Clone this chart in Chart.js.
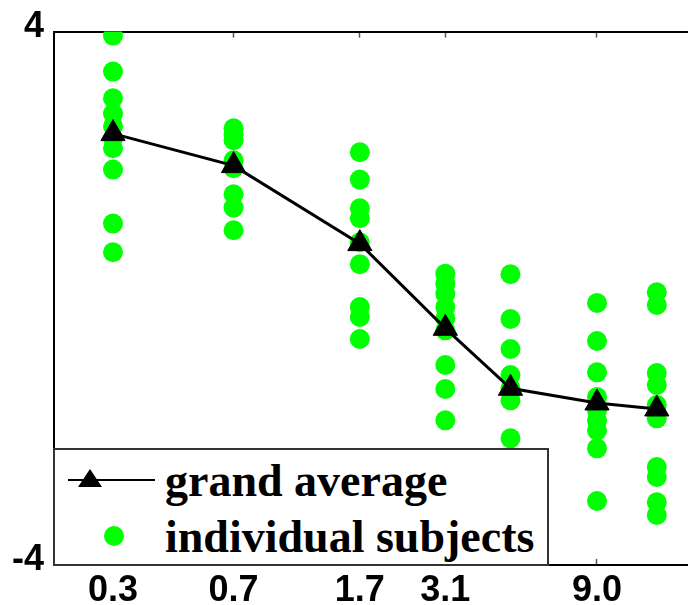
<!DOCTYPE html>
<html>
<head>
<meta charset="utf-8">
<script src="https://cdn.jsdelivr.net/npm/chart.js@4.4.1/dist/chart.umd.min.js"></script>
<style>
    body { margin: 0; background: #fff; overflow: hidden; }
    #wrap { position: relative; width: 688px; height: 605px; }
    #legendBox {
        position: absolute; left: 53px; top: 448px; width: 496px; height: 118px;
        border: 2px solid #333; background: #fff; box-sizing: border-box;
        font-family: "Liberation Serif", "Times New Roman", serif; font-weight: bold;
        font-size: 46px; color: #000;
    }
    #legendBox span { position: absolute; left: 110px; line-height: 46px; white-space: nowrap; }
    #legendBox svg { position: absolute; left: 0; top: 0; }
</style>
</head>
<body>
<div id="wrap">
    <canvas id="chart" width="688" height="605"></canvas>
    <div id="legendBox">
        <svg width="120" height="113">
            <line x1="13" y1="30" x2="100" y2="30" stroke="#000" stroke-width="2"></line>
            <polygon points="35,19 47,37 23,37" fill="#000"></polygon>
            <circle cx="59" cy="86" r="10" fill="#00ff00"></circle>
        </svg>
        <span id="lg1" style="top:8px">grand average</span>
        <span id="lg2" style="top:64px">individual subjects</span>
    </div>
</div>
<script>
// x positions of the conditions (log axis)
var levels = [0.3, 0.7, 1.7, 3.1, 4.9, 9.0, 13.7];
var tickValues = [0.3, 0.7, 1.7, 3.1, 9.0];
var yTicks = [-4, 4];

// mean of all subjects per condition
var grandAverage = [2.47, 1.99, 0.82, -0.45, -1.35, -1.57, -1.66];

// single subjects, one list per condition
var subj03 = [3.94, 3.40, 3.00, 2.77, 2.58, 2.40, 2.25, 1.93, 1.12, 0.69];
var subj07 = [2.55, 2.46, 2.37, 2.07, 1.95, 1.56, 1.36, 1.02];
var subj17 = [2.19, 1.78, 1.35, 1.20, 0.84, 0.51, -0.13, -0.28, -0.61];
var subj31 = [0.37, 0.22, 0.07, -0.13, -0.30, -0.48, -1.00, -1.36, -1.83];
var subj49 = [0.36, -0.31, -0.76, -1.15, -1.35, -1.53, -2.10];
var subj90 = [-0.07, -0.64, -1.11, -1.48, -1.68, -1.83, -1.98, -2.25, -3.04];
var subj137 = [0.09, -0.10, -1.12, -1.30, -1.60, -1.80, -2.53, -2.68, -3.06, -3.25];
var subjects = [subj03, subj07, subj17, subj31, subj49, subj90, subj137];

var subjectPoints = [];
subjects.forEach(function(list, i){
    list.forEach(function(v){
        subjectPoints.push({x: levels[i], y: v});
    });
});
var averagePoints = levels.map(function(x, i){ return {x: x, y: grandAverage[i]}; });

var tickFont = {family: '"Liberation Sans", Arial, sans-serif', size: 36, weight: 'bold'};

// short tick marks pointing into the plot
var innerTicks = { display: true, drawOnChartArea: false, drawTicks: true, tickLength: -6, tickColor: '#555', tickWidth: 1.5 };

function setXTicks(scale){
    scale.ticks = tickValues.map(function(v){ return {value: v}; });
}

new Chart(document.getElementById('chart'), {
    type: 'scatter',
    data: {
        datasets: [{
            label: 'grand average',
            data: averagePoints,
            showLine: true,
            borderColor: '#000',
            borderWidth: 3,
            pointStyle: 'triangle',
            pointRadius: 14,
            pointBackgroundColor: '#000',
            pointBorderColor: '#000',
            pointBorderWidth: 1,
            order: 0
        }, {
            label: 'individual subjects',
            data: subjectPoints,
            pointStyle: 'circle',
            pointRadius: 10,
            pointBackgroundColor: '#00ff00',
            pointBorderWidth: 0,
            order: 1
        }]
    },
    options: {
        responsive: false,
        animation: false,
        events: [],
        layout: { padding: 0, autoPadding: false },
        plugins: { legend: { display: false }, tooltip: { enabled: false } },
        scales: {
            x: {
                type: 'logarithmic',
                position: 'bottom',
                min: 0.1982,
                max: 17.06,
                afterBuildTicks: setXTicks,
                afterFit: function(scale){ scale.height = 40; },
                ticks: {
                    color: '#000',
                    font: tickFont,
                    padding: 10,
                    maxRotation: 0,
                    autoSkip: false,
                    callback: function(v){ return Number(v).toFixed(1); }
                },
                grid: innerTicks,
                border: { display: true, color: '#000', width: 2 }
            },
            x2: {
                type: 'logarithmic',
                position: 'top',
                min: 0.1982,
                max: 17.06,
                afterBuildTicks: setXTicks,
                afterFit: function(scale){ scale.height = 31; },
                ticks: { display: false },
                grid: innerTicks,
                border: { display: true, color: '#000', width: 2 }
            },
            y: {
                min: -4,
                max: 4,
                afterBuildTicks: function(scale){
                    scale.ticks = yTicks.map(function(v){ return {value: v}; });
                },
                afterFit: function(scale){ scale.width = 54; },
                ticks: {
                    color: '#000',
                    font: tickFont,
                    padding: 10,
                    labelOffset: -5
                },
                grid: { display: false, drawTicks: false },
                border: { display: true, color: '#000', width: 2 }
            }
        }
    }
});
</script>
</body>
</html>
